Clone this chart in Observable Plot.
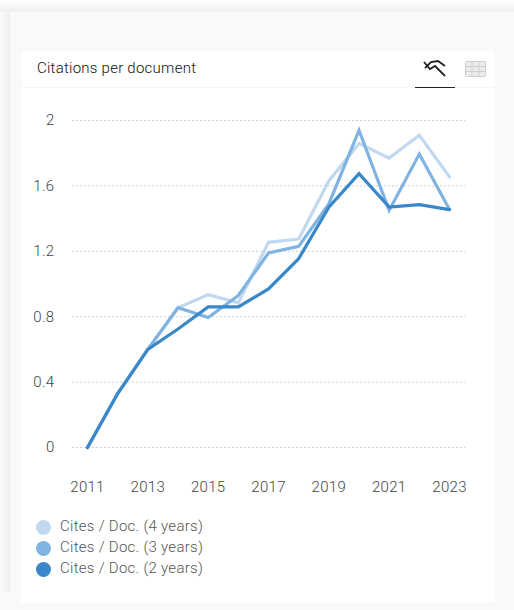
<!DOCTYPE html>
<html><head><meta charset="utf-8">
<script src="https://cdn.jsdelivr.net/npm/d3@7"></script>
<script src="https://cdn.jsdelivr.net/npm/@observablehq/plot@0.6"></script>
<style>
html,body{margin:0;padding:0;background:#f9f9f9;width:514px;height:610px;overflow:hidden;font-family:Roboto,sans-serif}
#stripL{position:absolute;left:0;top:0;width:10px;height:592px;background:linear-gradient(to right,#fafafa,#efefef)}
#stripT{position:absolute;left:0;top:0;width:514px;height:12px;background:linear-gradient(to bottom,#fff,#fafafa 30%,#eeeeee)}
#card{position:absolute;left:10px;top:12px;width:504px;height:598px;background:#f9f9f9}
#panel{position:absolute;left:21px;top:51px;width:474px;height:552px;background:#fff;border-radius:2px}
#head{position:absolute;left:21px;top:87px;width:474px;height:1px;background:#f6f6f6}
#title{position:absolute;left:37px;top:60px;font-size:15px;line-height:17px;color:#111;letter-spacing:.25px;font-weight:300}
#tab{position:absolute;left:415px;top:87px;width:40px;height:1px;background:#222}
#icons{position:absolute;left:420px;top:56px}
#chart{position:absolute;left:21px;top:100px}
#chart svg{display:block;overflow:visible}
#legend{position:absolute;left:36px;top:516px}
.row{position:relative;height:21px;width:300px}
.dot{position:absolute;left:0;top:3.5px;width:15px;height:15px;border-radius:50%}
.lab{position:absolute;left:24px;top:0;font-size:15px;line-height:20px;color:#555;font-weight:300;letter-spacing:.28px;white-space:nowrap}
</style></head><body>
<div id="stripL"></div><div id="stripT"></div><div id="card"></div><div id="panel"></div><div id="head"></div>
<div id="title">Citations per document</div>
<svg id="icons" width="70" height="26" viewBox="0 0 70 26">
<path d="M4 6 L10 13 L15 10 L25 20" fill="none" stroke="#222" stroke-width="1.8"/>
<path d="M5 12 L11 6 L18 5 L25 10" fill="none" stroke="#222" stroke-width="1.8"/>
<rect x="45.5" y="5.5" width="20" height="15" fill="#ececec" stroke="#cfcfcf" rx="1"/>
<path d="M45.5 10.5H65.5M45.5 15.5H65.5M52 5.5V20.5M59 5.5V20.5" stroke="#cfcfcf" fill="none"/>
</svg>
<div id="tab"></div>
<div id="chart"></div>
<div id="legend"></div>
<script>
const years=[2011,2012,2013,2014,2015,2016,2017,2018,2019,2020,2021,2022,2023];
const cites4=[0,0.33,0.6,0.855,0.935,0.885,1.255,1.275,1.63,1.86,1.77,1.91,1.655];
const cites3=[0,0.33,0.6,0.855,0.795,0.93,1.19,1.23,1.49,1.94,1.45,1.795,1.455];
const cites2=[0,0.33,0.6,0.725,0.86,0.86,0.97,1.155,1.47,1.675,1.47,1.485,1.455];
const seriesNames=["Cites / Doc. (4 years)","Cites / Doc. (3 years)","Cites / Doc. (2 years)"];
const seriesColors=["#c0d9f0","#7fb3e1","#3a87c9"];
const yTicks=[0,0.4,0.8,1.2,1.6,2];
const xTicks=[2011,2013,2015,2017,2019,2021,2023];
const allSeries=[cites4,cites3,cites2];
const rows=allSeries.flatMap((vals,i)=>vals.map((v,j)=>({year:years[j],value:v,series:seriesNames[i]})));
const plot=Plot.plot({
  width:474,height:400,
  marginLeft:51,marginRight:30,marginTop:20,marginBottom:53,
  style:{fontFamily:"Roboto, sans-serif",fontSize:"15px",fontWeight:300,letterSpacing:"0.3px",background:"transparent",color:"#444"},
  x:{domain:[2010.503,2023.53],label:null},
  y:{domain:[0,2],label:null},
  color:{domain:seriesNames,range:seriesColors},
  marks:[
    Plot.gridY(yTicks,{stroke:"#cfcfcf",strokeOpacity:1,strokeDasharray:"2 2",strokeWidth:1}),
    Plot.axisY(yTicks,{tickSize:0,tickPadding:0,textAnchor:"end",dx:-18,label:null,tickFormat:d=>String(d),fill:"#444"}),
    Plot.axisX(xTicks,{tickSize:0,tickPadding:34,label:null,tickFormat:d=>String(d),fill:"#444"}),
    Plot.line(rows,{x:"year",y:"value",z:"series",stroke:"series",strokeWidth:3.2,curve:"linear",strokeLinejoin:"miter",strokeMiterlimit:4})
  ]
});
document.getElementById("chart").appendChild(plot);
const legend=document.getElementById("legend");
seriesNames.forEach((n,i)=>{
  const r=document.createElement("div");r.className="row";
  r.innerHTML='<span class="dot" style="background:'+seriesColors[i]+'"></span><span class="lab">'+n+'</span>';
  legend.appendChild(r);
});
</script>
</body></html>
